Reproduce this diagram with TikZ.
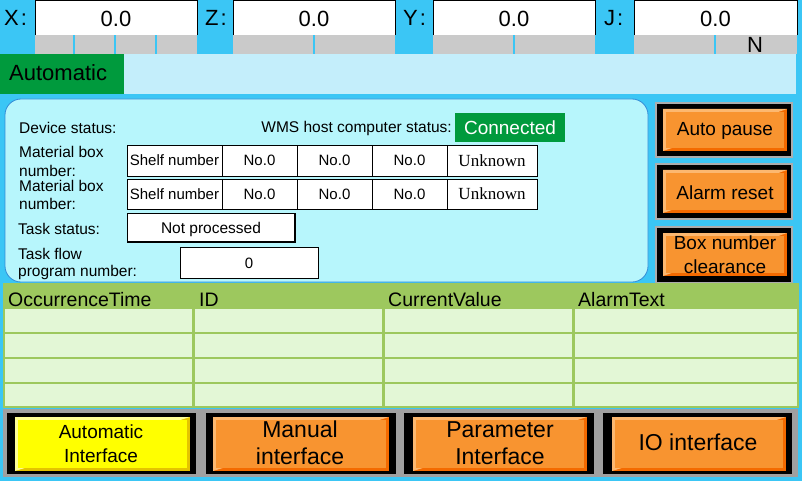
\documentclass[tikz,border=0pt]{standalone}
\usepackage{fontspec}
\setmainfont{Liberation Sans}
\newfontfamily\serifu{Liberation Serif}
\definecolor{cyanbg}{RGB}{59,198,245}
\definecolor{lightrow}{RGB}{196,238,251}
\definecolor{panelfill}{RGB}{183,246,252}
\definecolor{okgreen}{RGB}{0,154,61}
\definecolor{stripgray}{RGB}{202,202,202}
\definecolor{btnorange}{RGB}{248,148,48}
\definecolor{btndark}{RGB}{244,106,0}
\definecolor{btnlight}{RGB}{252,184,112}
\definecolor{btnyellow}{RGB}{255,255,0}
\definecolor{ydark}{RGB}{228,196,0}
\definecolor{ylight}{RGB}{255,255,150}
\definecolor{hdrgreen}{RGB}{157,200,94}
\definecolor{cellgreen}{RGB}{227,247,214}
\definecolor{panelline}{RGB}{50,140,215}
\definecolor{framegray}{RGB}{172,172,172}
\definecolor{bottomgray}{RGB}{160,160,160}
\newcommand\bevbtn[7]{%
  \fill[#6] (#1,#2) rectangle (#3,#4);
  \fill[#7] (#1,#2) -- (#3,#2) -- (#1,#4) -- cycle;
  \fill[#5] ([xshift=3pt,yshift=-3pt]#1,#2) rectangle ([xshift=-3pt,yshift=3pt]#3,#4);
}
\begin{document}
\begin{tikzpicture}[x=1pt,y=-1pt,
  every node/.style={inner sep=0pt},
  axis/.style={font=\fontsize{22}{24}\selectfont},
  lbl/.style={font=\fontsize{15.5}{16}\selectfont},
  cell/.style={font=\fontsize{15}{16}\selectfont},
  serifcell/.style={font=\serifu\fontsize{17}{18}\selectfont},
  rbtn/.style={font=\fontsize{19}{24}\selectfont, align=center},
  bbtn/.style={font=\fontsize{23}{27}\selectfont, align=center},
  hdr/.style={font=\fontsize{19.5}{22}\selectfont, anchor=west},
  whitebox/.style={draw=black, fill=white, line width=0.8pt}]
\useasboundingbox (0,0) rectangle (802,481);
\fill[cyanbg] (0,0) rectangle (802,481);
% ---- top axis row
\foreach \bx/\ex/\lab/\lx/\nm in {35/197/X/4/x, 233/395/Z/205/z, 433/595/Y/403/y, 634/797/J/604/j}{
  \fill[white] (\bx,1) rectangle (\ex,35);
  \draw[black, line width=1pt] (\bx,35) -- (\bx,1) -- (\ex,1) -- (\ex,35);
  \node[axis, anchor=west] (lab\nm) at (\lx,18) {\lab\kern2pt:};
  \node[axis] (val\nm) at ({(\bx+\ex)/2},18.5) {0.0};
}
\foreach \a/\b in {35/73, 75/114, 116/155, 157/197, 233/313, 315/395, 433/513, 515/595, 634/714, 716/797}{
  \fill[stripgray] (\a,35) rectangle (\b,54);
}
\node[font=\fontsize{22}{24}\selectfont] (nlab) at (755,45) {N};
% ---- mode row
\fill[okgreen] (0,54) rectangle (124,94);
\fill[lightrow] (124,54) rectangle (796,94);
\node[font=\fontsize{22}{24}\selectfont, anchor=west] (mode) at (9,73) {Automatic};
% ---- main panel
\draw[panelline, fill=panelfill, line width=0.8pt, rounded corners=16pt] (5,99) rectangle (648,282);
\node[lbl, anchor=west] (devst) at (19,128) {Device status:};
\node[lbl, anchor=east] (wms) at (452,128) {WMS host computer status:};
\fill[okgreen] (455,113) rectangle (565,142);
\node[font=\fontsize{19}{21}\selectfont, text=white] (conn) at (510,127.5) {Connected};
% material box tables
\foreach \ya/\yb/\r in {145/176/1, 179/209/2}{
  \foreach \xa/\xb/\c in {127/222/1, 222/297/2, 297/372/3, 372/447/4, 447/537/5}{
    \draw[whitebox] (\xa,\ya) rectangle (\xb,\yb);
  }
  \node[cell] (shelf\r) at (174.5,{(\ya+\yb)/2}) {Shelf number};
  \node[cell] (noa\r) at (259.5,{(\ya+\yb)/2}) {No.0};
  \node[cell] (nob\r) at (334.5,{(\ya+\yb)/2}) {No.0};
  \node[cell] (noc\r) at (409.5,{(\ya+\yb)/2}) {No.0};
  \node[serifcell] (unk\r) at (492,{(\ya+\yb)/2}) {Unknown};
}
\node[lbl, anchor=west] (mb1a) at (19,152) {Material box};
\node[lbl, anchor=west] (mb1b) at (19,171) {number:};
\node[lbl, anchor=west] (mb2a) at (19,186) {Material box};
\node[lbl, anchor=west] (mb2b) at (19,204) {number:};
\node[lbl, anchor=west] (tsl) at (18,229) {Task status:};
\draw[whitebox] (127,213) rectangle (295,242);
\draw[black, line width=1.4pt] (295,213) -- (295,242) -- (127,242);
\node[cell, font=\fontsize{15.5}{17}\selectfont] (tsv) at (211,229) {Not processed};
\node[lbl, anchor=west] (tfa) at (18,254) {Task flow};
\node[lbl, anchor=west] (tfb) at (18,272) {program number:};
\draw[whitebox] (180,247) rectangle (318,278);
\node[cell] (tfv) at (249,263) {0};
% ---- right buttons
\foreach \ya/\yb/\fa/\fb in {102/158/109/151, 163/220/170/213, 226/284/233/276}{
  \fill[framegray] (655,\ya) rectangle (793,\yb);
  \fill[black] (657,\ya+2) rectangle (791,\yb-2);
  \bevbtn{663}{\fa}{787}{\fb}{btnorange}{btndark}{btnlight}
}
\node[rbtn] (autopause) at (725,131) {Auto pause};
\node[rbtn] (alarmreset) at (725,193) {Alarm reset};
\node[rbtn] (boxclear) at (725,255) {Box number\\clearance};
% ---- alarm table
\fill[hdrgreen] (3,283) rectangle (799,408);
\foreach \ya/\yb in {309/332, 334/357, 359/382, 384/406}{
  \foreach \xa/\xb in {5/192, 195/382, 385/572, 575/797}{
    \fill[cellgreen] (\xa,\ya) rectangle (\xb,\yb);
  }
}
\node[hdr] (h1) at (8,299.5) {OccurrenceTime};
\node[hdr] (h2) at (199,299.5) {ID};
\node[hdr] (h3) at (388,299.5) {CurrentValue};
\node[hdr] (h4) at (578,299.5) {AlarmText};
% ---- bottom buttons
\fill[bottomgray] (3,409) rectangle (798,477);
\fill[black] (7,413) rectangle (196,474);
\bevbtn{15}{417}{190}{471}{btnyellow}{ydark}{ylight}
\fill[black] (206,413) rectangle (396,474);
\bevbtn{213}{417}{389}{471}{btnorange}{btndark}{btnlight}
\fill[black] (404,413) rectangle (594,474);
\bevbtn{413}{417}{587}{471}{btnorange}{btndark}{btnlight}
\fill[black] (603,413) rectangle (792,474);
\bevbtn{612}{417}{786}{471}{btnorange}{btndark}{btnlight}
\node[rbtn] (autoif) at (101,444) {Automatic\\Interface};
\node[bbtn] (manif) at (300,443) {Manual\\interface};
\node[bbtn] (parif) at (500,443) {Parameter\\Interface};
\node[bbtn] (ioif) at (698,442) {IO interface};
\end{tikzpicture}
\end{document}
